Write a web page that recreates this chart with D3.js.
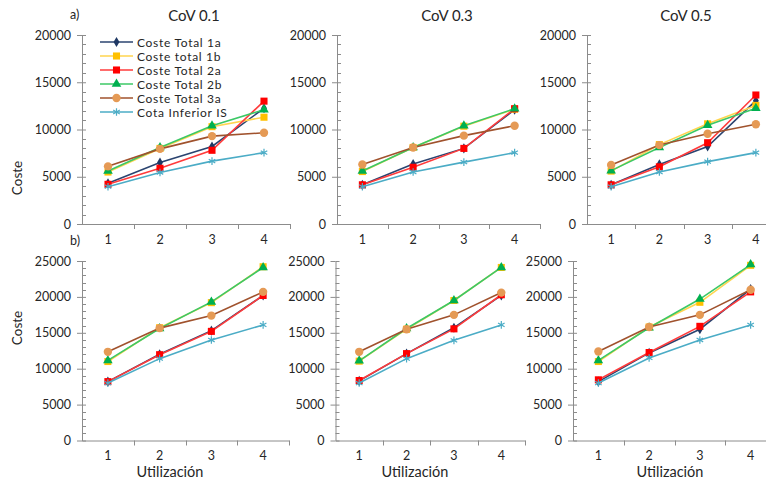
<!DOCTYPE html>
<html>
<head>
<meta charset="utf-8">
<script src="https://cdn.jsdelivr.net/npm/d3@7"></script>
<style>
  body { margin: 0; background: #fff; }
  text { font-family: Lato, "Open Sans", sans-serif; fill: #262626; }
</style>
</head>
<body>
<div id="chart"></div>
<script>
// categories and tick labels
const categories = ["1", "2", "3", "4"];
const seriesNames = ["Coste Total 1a", "Coste total 1b", "Coste Total 2a", "Coste Total 2b", "Coste Total 3a", "Cota Inferior IS"];
const yTicksTop = [0, 5000, 10000, 15000, 20000];
const yTicksBottom = [0, 5000, 10000, 15000, 20000, 25000];
const titles = ["CoV 0.1", "CoV 0.3", "CoV 0.5"];

// a) rows: 1a, 1b, 2a, 2b, 3a, IS
const costA_cov01 = [
  [4300, 6500, 8200, 12250],
  [5500, 8000, 10300, 11300],
  [4200, 5900, 7800, 13000],
  [5600, 8100, 10400, 12100],
  [6100, 7950, 9300, 9650],
  [3950, 5450, 6650, 7550]
];
const costA_cov03 = [
  [4150, 6350, 8000, 12100],
  [5550, 8100, 10350, 12150],
  [4150, 6000, 8000, 12200],
  [5600, 8100, 10400, 12200],
  [6300, 8100, 9350, 10400],
  [3950, 5500, 6550, 7550]
];
const costA_cov05 = [
  [4150, 6300, 8200, 13050],
  [5600, 8400, 10600, 12550],
  [4150, 6050, 8600, 13650],
  [5650, 8100, 10450, 12250],
  [6250, 8350, 9550, 10550],
  [3950, 5500, 6600, 7550]
];
// b)
const costB_cov01 = [
  [8200, 12000, 15300, 20200],
  [11000, 15700, 19200, 24200],
  [8200, 11950, 15200, 20200],
  [11150, 15600, 19300, 24100],
  [12350, 15650, 17400, 20700],
  [8000, 11400, 14000, 16100]
];
const costB_cov03 = [
  [8300, 12100, 15700, 20200],
  [11050, 15500, 19500, 24100],
  [8350, 12100, 15550, 20300],
  [11100, 15600, 19500, 24100],
  [12350, 15500, 17500, 20600],
  [8000, 11400, 13950, 16100]
];
const costB_cov05 = [
  [8200, 12200, 15500, 21100],
  [11000, 15800, 19250, 24400],
  [8450, 12250, 15900, 20700],
  [11150, 15700, 19700, 24500],
  [12400, 15800, 17500, 21000],
  [8000, 11500, 14000, 16100]
];

const W = 766, H = 482;
const axisColor = "#8c8c8c";

// series styles
const styles = [
  {line: "#2b4470", fill: "#1f3864", sym: d3.symbolDiamond, size: 30},
  {line: "#ffd54f", fill: "#ffc000", sym: d3.symbolSquare, size: 50},
  {line: "#ff3b3b", fill: "#ff0000", sym: d3.symbolSquare, size: 50},
  {line: "#3cc866", fill: "#00b050", sym: d3.symbolTriangle, size: 40},
  {line: "#a0522d", fill: "#e59a55", sym: d3.symbolCircle, size: 55},
  {line: "#4bacc6", fill: "#4bacc6", sym: d3.symbolAsterisk, size: 40, stroke: true}
];

const panels = [
  {data: costA_cov01, x0: 82, x1: 290, y0: 224, y1: 35, max: 20000, ticks: yTicksTop, title: titles[0], tx: 194},
  {data: costA_cov03, x0: 337, x1: 540, y0: 224, y1: 35, max: 20000, ticks: yTicksTop, title: titles[1], tx: 447},
  {data: costA_cov05, x0: 587, x1: 780, y0: 224, y1: 35, max: 20000, ticks: yTicksTop, title: titles[2], tx: 686},
  {data: costB_cov01, x0: 82, x1: 289, y0: 440.5, y1: 261, max: 25000, ticks: yTicksBottom, lx: 170},
  {data: costB_cov03, x0: 335.5, x1: 525, y0: 440.5, y1: 261, max: 25000, ticks: yTicksBottom, lx: 415},
  {data: costB_cov05, x0: 573, x1: 776, y0: 440.5, y1: 261, max: 25000, ticks: yTicksBottom, lx: 670}
];

const svg = d3.select("#chart").append("svg")
  .attr("width", W).attr("height", H);

panels.forEach((p) => {
  const g = svg.append("g");
  const x = d3.scaleBand().domain(categories).range([p.x0, p.x1]);
  const y = d3.scaleLinear().domain([0, p.max]).range([p.y0, p.y1]);

  // minor ticks every 1000
  const minor = d3.range(0, p.max + 1, 1000).filter(v => v % 5000 !== 0);
  g.selectAll(".minor").data(minor).enter().append("line")
    .attr("x1", p.x0).attr("x2", p.x0 + 4)
    .attr("y1", d => Math.round(y(d)) + 0.5).attr("y2", d => Math.round(y(d)) + 0.5)
    .attr("stroke", axisColor);

  // y axis
  const ya = g.append("g").attr("transform", `translate(${p.x0},0)`)
    .call(d3.axisLeft(y).tickValues(p.ticks).tickFormat(d3.format("d"))
      .tickSize(5).tickSizeOuter(0).tickPadding(6));
  ya.select(".domain").attr("stroke", axisColor);
  ya.selectAll(".tick line").attr("stroke", axisColor).attr("x2", -5).clone().attr("x2", 4);
  ya.selectAll(".tick text").style("font-size", "12.5px").attr("fill", "#262626");

  // x axis (ticks between categories)
  const xa = g.append("g").attr("transform", `translate(0,${p.y0})`)
    .call(d3.axisBottom(x).tickSize(0).tickPadding(11));
  xa.select(".domain").attr("stroke", axisColor);
  xa.selectAll(".tick text").style("font-size", "12.5px").attr("fill", "#262626");
  const bounds = categories.map(c => x(c)).slice(1);
  bounds.push(x(categories[3]) + x.bandwidth());
  g.selectAll(".xb").data(bounds).enter().append("line")
    .attr("x1", d => Math.round(d) + 0.5).attr("x2", d => Math.round(d) + 0.5)
    .attr("y1", p.y0).attr("y2", p.y0 + 5)
    .attr("stroke", axisColor);

  // series
  const line = d3.line()
    .x((d, i) => x(categories[i]) + x.bandwidth() / 2)
    .y(d => y(d));
  p.data.forEach((vals, si) => {
    const s = styles[si];
    g.append("path").datum(vals)
      .attr("d", line)
      .attr("fill", "none")
      .attr("stroke", s.line)
      .attr("stroke-width", 1.6);
    g.selectAll(".m" + si).data(vals).enter().append("path")
      .attr("transform", (d, i) => `translate(${x(categories[i]) + x.bandwidth() / 2},${y(d)})`)
      .attr("d", d3.symbol().type(s.sym).size(s.size))
      .attr("fill", s.stroke ? "none" : s.fill)
      .attr("stroke", s.stroke ? s.fill : "none")
      .attr("stroke-width", 1.2);
  });

  if (p.title) {
    svg.append("text").attr("x", p.tx).attr("y", 21).attr("text-anchor", "middle")
      .style("font-size", "15px").text(p.title);
  }
  if (p.lx) {
    svg.append("text").attr("x", p.lx).attr("y", 477).attr("text-anchor", "middle")
      .style("font-size", "14.5px").text("Utilización");
  }
});

// panel tags and y titles
svg.append("text").attr("x", 70).attr("y", 19).style("font-size", "12.5px").text("a)");
svg.append("text").attr("x", 70).attr("y", 245).style("font-size", "12.5px").text("b)");
[178, 328].forEach(cy => {
  svg.append("text").attr("transform", `translate(22,${cy}) rotate(-90)`)
    .attr("text-anchor", "middle").style("font-size", "13.5px").text("Coste");
});

// legend in first panel
const leg = svg.append("g");
seriesNames.forEach((name, i) => {
  const s = styles[i];
  const ly = 42 + i * 14;
  leg.append("line").attr("x1", 100).attr("x2", 133).attr("y1", ly).attr("y2", ly)
    .attr("stroke", s.line).attr("stroke-width", 1.6);
  leg.append("path").attr("transform", `translate(116.5,${ly})`)
    .attr("d", d3.symbol().type(s.sym).size(s.size))
    .attr("fill", s.stroke ? "none" : s.fill)
    .attr("stroke", s.stroke ? s.fill : "none").attr("stroke-width", 1.2);
  leg.append("text").attr("x", 137).attr("y", ly + 4.5)
    .style("font-size", "12px").style("letter-spacing", "0.7px").text(name);
});
</script>
</body>
</html>
